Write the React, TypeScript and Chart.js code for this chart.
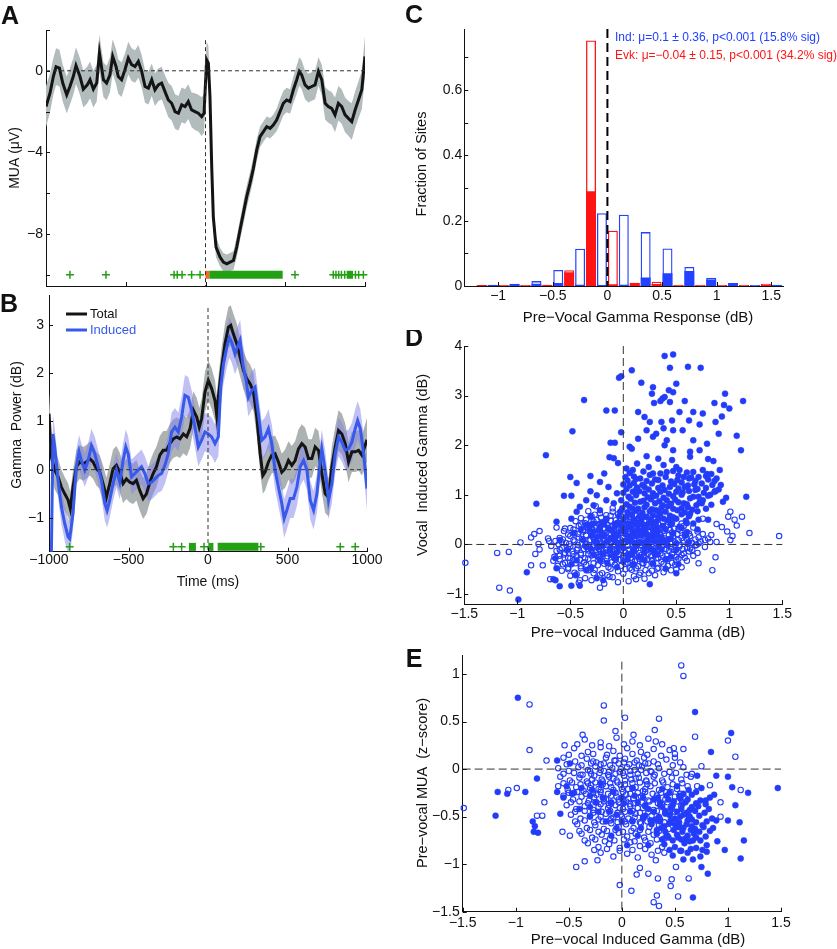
import React, { useEffect, useRef } from 'react';
import { Chart, registerables } from 'chart.js';

Chart.register(...registerables);

const FONT = "'Liberation Sans', Arial, Helvetica, sans-serif";
Chart.defaults.font.family = FONT;
Chart.defaults.color = '#111';
const MINUS = '\u2212';
const fmt = (v: number) => (v < 0 ? MINUS + String(-v) : String(v));

// ---------------- Panel A: MUA ----------------
const muaTime = [-1000,-975,-954,-937,-916,-895,-870,-850,-829,-812,-787,-766,-741,-724,-703,-682,-665,-640,-620,-599,-582,-561,-547,-526,-505,-484,-463,-442,-421,-400,-379,-358,-337,-317,-296,-275,-254,-233,-212,-191,-170,-149,-128,-108,-87,-66,-45,-24,-9,7,18,28,39,49,66,91,112,133,154,175,196,216,237,258,279,300,321,342,363,384,405,425,446,467,488,509,530,551,572,588,603,624,645,666,687,708,729,750,770,791,812,833,854,875,896,917,938,959,980,1000];
const muaMean = [-1.75,-1.1,-0.28,0.2,0.13,-0.6,-1.18,-0.77,-0.28,0.25,-0.28,-0.9,-0.69,-0.44,-0.9,-0.6,0.87,-0.44,-0.6,-0.2,0.7,0.21,-0.28,-0.44,0.05,0.62,0.3,0.21,0.46,-0.03,-0.77,-0.85,-0.44,-0.93,-0.69,-0.6,-1.02,-1.43,-1.59,-2.0,-2.08,-1.67,-1.75,-1.51,-1.92,-2.0,-2.08,-2.25,-2.08,0.54,0.38,-1.26,-4.7,-7.16,-8.64,-9.13,-9.38,-9.46,-9.38,-9.3,-8.64,-7.82,-7.0,-6.18,-5.52,-4.79,-3.89,-3.23,-2.98,-2.74,-2.82,-2.66,-2.41,-2.0,-1.59,-1.43,-1.51,-0.93,-0.44,-0.03,-0.2,-0.69,-0.85,-0.77,-0.69,-0.03,-0.44,-1.59,-1.75,-1.84,-2.16,-1.59,-1.75,-2.16,-2.33,-2.49,-1.92,-1.43,-0.93,0.7];
const muaSem = [1.0,0.95,0.9,0.9,0.9,0.9,0.9,0.9,0.9,0.9,0.9,0.9,0.9,0.9,0.9,0.9,0.9,0.85,0.85,0.85,0.85,0.85,0.85,0.85,0.8,0.8,0.8,0.8,0.8,0.8,0.8,0.8,0.8,0.8,0.8,0.8,0.8,0.85,0.85,0.85,0.85,0.85,0.85,0.85,0.85,0.9,0.9,0.95,0.95,0.9,0.85,0.7,0.6,0.55,0.5,0.45,0.45,0.45,0.45,0.45,0.5,0.5,0.55,0.55,0.55,0.55,0.55,0.5,0.5,0.5,0.5,0.5,0.55,0.6,0.6,0.6,0.6,0.65,0.7,0.7,0.7,0.7,0.7,0.7,0.7,0.7,0.75,0.8,0.8,0.8,0.85,0.85,0.85,0.85,0.85,0.9,0.9,0.9,0.95,1.0];
const muaSigCross = [-850,-624,-197,-177,-147,-87,-34,561,801,818,835,852,873,940,960,990];
const muaSigBars = [[24,484],[885,925]];
const muaOnsetBars = [[0,24]];
const muaMarkY = -10;
const muaXTicks = [-1000,-500,0,500,1000];
const muaYTicks = [2,0,-2,-4,-6,-8,-10];
const muaYLabels = [0,-4,-8];

// ---------------- Panel B: gamma power ----------------
const totalTime = [-1000,-985,-964,-943,-922,-901,-880,-866,-849,-828,-807,-786,-765,-744,-723,-702,-681,-660,-639,-618,-597,-576,-555,-534,-513,-492,-471,-450,-429,-408,-387,-366,-345,-324,-303,-282,-261,-240,-218,-197,-176,-155,-134,-113,-92,-71,-55,-40,-19,2,23,44,55,65,86,107,128,143,160,181,202,223,244,265,286,307,328,345,359,380,401,422,443,464,485,506,527,548,569,590,611,632,653,674,695,716,737,758,779,800,821,842,863,884,905,926,947,968,1000];
const totalMean = [1.16,0.26,-0.01,-0.15,-0.36,-0.5,-0.63,-0.81,-0.36,0.06,0.16,0.12,0.16,0.23,0.16,0.02,-0.05,-0.29,-0.57,-0.29,0.02,0.09,-0.05,-0.29,-0.19,-0.26,-0.29,-0.22,-0.43,-0.6,-0.5,-0.26,-0.08,0.06,0.3,0.4,0.4,0.54,0.64,0.68,0.64,0.74,0.68,0.85,1.23,1.09,0.88,1.06,1.61,1.85,1.68,1.43,1.12,1.5,2.12,2.61,2.95,2.99,2.81,2.61,2.33,2.06,1.88,1.78,1.61,1.09,0.33,-0.12,-0.05,0.16,0.3,0.33,0.16,-0.05,0.02,0.19,0.09,0.19,0.43,0.54,0.47,0.23,0.23,0.47,0.4,-0.08,-0.5,-0.57,0.06,0.47,0.81,0.74,0.54,0.16,0.37,0.37,0.4,0.3,0.62];
const totalSem = [0.45,0.4,0.4,0.38,0.36,0.35,0.35,0.35,0.35,0.35,0.35,0.35,0.35,0.35,0.35,0.35,0.35,0.38,0.4,0.4,0.4,0.4,0.4,0.4,0.42,0.42,0.42,0.42,0.42,0.42,0.42,0.42,0.42,0.42,0.4,0.4,0.4,0.4,0.4,0.4,0.4,0.4,0.4,0.4,0.4,0.4,0.4,0.4,0.42,0.42,0.42,0.42,0.42,0.42,0.42,0.42,0.42,0.42,0.42,0.42,0.4,0.4,0.4,0.4,0.4,0.4,0.38,0.38,0.38,0.38,0.38,0.38,0.38,0.38,0.4,0.4,0.4,0.4,0.4,0.4,0.4,0.4,0.4,0.4,0.4,0.4,0.4,0.4,0.42,0.42,0.42,0.42,0.42,0.42,0.42,0.42,0.42,0.42,0.45];
const indTime = [-988,-975,-964,-943,-922,-901,-880,-870,-849,-828,-811,-796,-775,-754,-733,-712,-691,-670,-649,-634,-618,-597,-576,-555,-534,-517,-502,-481,-460,-439,-418,-397,-376,-355,-334,-313,-292,-271,-250,-229,-208,-187,-166,-145,-124,-103,-82,-61,-40,-19,2,23,44,65,80,97,118,134,149,170,185,202,219,240,254,275,296,317,338,359,380,401,422,443,464,479,496,517,538,559,580,601,622,643,664,685,702,716,737,758,779,800,821,842,863,884,905,926,941,958,979,1000];
const indMean = [-2.5,0.74,0.47,-0.22,-0.77,-1.12,-1.39,-1.43,-0.91,0.06,0.37,0.19,-0.01,0.19,0.5,0.33,0.06,-0.22,-0.7,-0.84,-0.63,-0.29,-0.01,-0.26,0.19,0.47,0.33,-0.15,-0.08,-0.01,0.06,-0.08,-0.29,-0.26,-0.19,-0.12,-0.08,0.09,0.33,0.78,0.88,0.78,1.09,1.54,1.5,1.23,0.88,0.47,0.61,0.78,0.74,0.68,0.54,0.68,1.71,2.19,2.54,2.74,2.64,2.4,2.54,2.68,2.19,1.85,1.5,1.64,1.71,1.16,0.61,0.68,0.85,0.54,-0.01,-0.36,-0.7,-1.01,-0.84,-0.6,-0.6,-0.36,0.06,0.19,-0.01,-0.63,-0.84,-0.5,0.06,0.43,-0.01,-0.63,-0.29,0.33,0.68,0.57,0.4,0.43,0.57,0.85,1.02,0.85,0.33,-0.39];
const indSem = [0,0.4,0.38,0.36,0.36,0.36,0.35,0.35,0.35,0.35,0.35,0.35,0.35,0.35,0.35,0.35,0.35,0.35,0.36,0.36,0.36,0.36,0.36,0.36,0.36,0.36,0.36,0.36,0.36,0.36,0.36,0.36,0.36,0.36,0.36,0.36,0.36,0.38,0.38,0.4,0.4,0.4,0.42,0.42,0.42,0.42,0.42,0.4,0.4,0.4,0.4,0.4,0.4,0.4,0.42,0.42,0.42,0.42,0.42,0.42,0.42,0.42,0.42,0.4,0.4,0.4,0.4,0.4,0.4,0.4,0.4,0.4,0.4,0.4,0.4,0.4,0.4,0.4,0.4,0.4,0.4,0.4,0.4,0.4,0.4,0.4,0.4,0.4,0.4,0.4,0.4,0.4,0.4,0.4,0.4,0.4,0.4,0.4,0.4,0.4,0.4,0.45];
const gamSigCross = [-870,-218,-166,-25,332,832,926];
const gamSigBars = [[-120,-76],[2,34],[61,317]];
const gamMarkY = -1.6;
const gamXTicks = [-1000,-500,0,500,1000];
const gamYTicks = [-1,0,1,2,3];

// ---------------- Panel C: histogram ----------------
const indCenters = [-1.05,-0.85,-0.65,-0.45,-0.25,-0.05,0.15,0.35,0.55,0.75,0.95,1.15,1.35,1.55];
const indAll = [0.003,0.006,0.014,0.048,0.113,0.222,0.217,0.164,0.114,0.057,0.024,0.008,0.002,0.003];
const indSig = [0.002,0.005,0.006,0.008,0.003,0.002,0.003,0.025,0.038,0.045,0.019,0.006,0.001,0.002];
const evkCenters = [-1.15,-0.95,-0.75,-0.55,-0.35,-0.15,0.05,0.25,0.45,0.65,0.85,1.05,1.25,1.45];
const evkAll = [0.002,0.002,0.002,0.003,0.047,0.751,0.168,0.009,0.012,0.002,0.002,0.002,0.002,0.006];
const evkSig = [0.002,0.001,0.001,0.002,0.041,0.289,0.004,0.008,0.005,0.001,0.001,0.001,0.001,0.003];
const histXTicks = [-1,-0.5,0,0.5,1,1.5];
const histYTicks = [0,0.1,0.2,0.3,0.4,0.5,0.6,0.7];
const histYLabels = [0,0.2,0.4,0.6];
const indLegend = 'Ind: \u03bc=0.1 \u00b1 0.36, p<0.001 (15.8% sig)';
const evkLegend = 'Evk: \u03bc=\u22120.04 \u00b1 0.15, p<0.001 (34.2% sig)';

// ---------------- Panel D: vocal vs pre-vocal induced gamma ----------------
const dSig = [[0.39,3.8],[0.47,3.83],[0.44,3.56],[0.61,3.58],[0.73,3.56],[0.08,3.51],[-0.04,3.36],[-0.02,3.39],[0.17,3.26],[0.5,3.24],[0.28,3.17],[0.43,3.11],[0.47,3.07],[0.96,3.04],[-0.37,2.91],[0.37,2.94],[1.13,2.89],[0.27,3.04],[0.29,2.85],[0.35,2.89],[0.39,2.97],[0.44,2.87],[0.58,2.89],[0.86,2.85],[0.95,2.81],[1.0,2.74],[-0.16,2.7],[-0.08,2.7],[0.14,2.67],[0.2,2.57],[0.25,2.47],[0.36,2.47],[0.46,2.5],[0.53,2.67],[0.62,2.5],[0.66,2.67],[0.72,2.42],[0.75,2.64],[0.87,2.47],[0.93,2.58],[-0.48,2.28],[-0.02,2.26],[0.22,2.3],[0.31,2.23],[0.38,2.34],[0.47,2.3],[0.56,2.3],[0.9,2.23],[1.07,2.19],[0.14,2.13],[0.28,2.17],[0.41,2.1],[0.66,2.1],[0.79,2.03],[1.11,1.9],[-0.12,2.05],[-0.08,2.05],[0.06,1.97],[0.08,1.93],[0.39,2.0],[0.47,1.9],[0.63,1.87],[0.72,1.9],[-0.73,1.8],[-0.13,1.76],[-0.09,1.74],[0.22,1.78],[0.33,1.73],[0.46,1.7],[0.63,1.77],[0.8,1.72],[0.85,1.68],[-0.05,1.64],[0.13,1.63],[0.24,1.56],[0.38,1.6],[0.5,1.56],[0.91,1.5],[0.03,1.53],[0.09,1.5],[0.28,1.43],[0.41,1.46],[0.53,1.5],[0.66,1.46],[0.75,1.5],[0.83,1.42],[-0.18,1.43],[-0.31,1.38],[-0.5,1.36],[-0.22,1.26],[-0.44,1.24],[0.02,1.36],[0.16,1.33],[0.33,1.3],[0.57,1.36],[0.71,1.36],[0.88,1.33],[-0.14,1.16],[-0.31,1.07],[0.06,1.19],[0.2,1.16],[0.44,1.16],[0.61,1.19],[0.74,1.23],[0.9,1.11],[-0.56,0.98],[-0.49,0.98],[-0.25,0.99],[-0.06,1.03],[0.09,1.06],[0.28,1.03],[0.5,1.06],[0.66,0.96],[0.97,0.94],[1.16,0.96],[0.94,0.86],[-0.82,0.82],[-0.35,0.89],[-0.16,0.89],[-0.41,0.76],[-0.28,0.79],[-0.09,0.83],[0.16,0.86],[0.41,0.89],[0.57,0.83],[0.69,0.79],[-0.44,0.66],[-0.22,0.69],[-0.03,0.66],[0.09,0.72],[0.31,0.69],[0.47,0.72],[0.63,0.62],[-0.49,0.52],[-0.31,0.56],[-0.16,0.52],[0.03,0.56],[0.22,0.56],[0.38,0.52],[0.71,0.5],[0.8,0.5],[-0.63,0.46],[-0.35,0.39],[-0.22,0.36],[-0.08,0.39],[0.13,0.39],[0.31,0.36],[0.53,0.36],[0.66,0.42],[-0.47,0.22],[-0.28,0.26],[-0.09,0.22],[0.09,0.26],[0.28,0.19],[0.47,0.22],[-0.6,0.09],[-0.38,0.09],[-0.16,0.05],[0.03,0.09],[0.22,0.05],[0.41,0.09],[-0.53,-0.11],[-0.31,-0.08],[-0.13,-0.11],[0.09,-0.15],[0.28,-0.11],[0.5,-0.11],[-0.64,-0.28],[-0.44,-0.32],[-0.22,-0.32],[0,-0.35],[0.2,-0.32],[0.41,-0.3],[-0.63,-0.48],[-0.49,-0.4],[-0.3,-0.46],[-0.06,-0.46],[0.4,-0.49],[0.52,-0.4],[-0.91,-0.56],[-0.66,-0.7],[-0.64,-0.72],[-0.45,-0.62],[-0.35,-0.52],[-0.25,-0.68],[-0.19,-0.72],[0.5,-0.58],[-0.6,-0.84],[-0.49,-0.83],[-0.41,-0.83],[0.25,-0.8],[-0.99,-1.11],
[0.06,1.44],[0.19,1.47],[0.35,1.43],[0.47,1.48],[0.6,1.45],[0.79,1.42],[0.1,1.37],[0.25,1.4],[0.4,1.36],[0.52,1.39],[0.64,1.35],[0.78,1.38],[0.04,1.29],[0.12,1.32],[0.22,1.28],[0.3,1.31],[0.45,1.27],[0.51,1.3],[0.62,1.33],[0.68,1.28],[0.8,1.31],[0.0,1.21],[0.1,1.24],[0.18,1.2],[0.27,1.23],[0.37,1.19],[0.48,1.22],[0.55,1.25],[0.67,1.21],[0.84,1.2],[0.03,1.12],[0.13,1.15],[0.24,1.11],[0.33,1.14],[0.39,1.1],[0.52,1.13],[0.58,1.16],[0.7,1.12],[0.78,1.14],[0.0,1.04],[0.15,1.07],[0.2,1.03],[0.35,1.06],[0.43,1.02],[0.56,1.05],[0.62,1.08],[0.76,1.04],[0.86,1.06],[0.05,0.96],[0.12,0.99],[0.23,0.95],[0.31,0.98],[0.38,0.94],[0.47,0.97],[0.55,1.0],[0.71,0.96],[0.8,0.98],[-0.02,0.89],[0.07,0.92],[0.19,0.88],[0.26,0.91],[0.34,0.87],[0.49,0.9],[0.63,0.93],[0.75,0.89],[0.03,0.81],[0.11,0.84],[0.22,0.8],[0.3,0.83],[0.37,0.79],[0.45,0.82],[0.52,0.85],[0.6,0.81],[0.74,0.83],[0.83,0.8],[-0.01,0.73],[0.06,0.76],[0.14,0.72],[0.2,0.75],[0.27,0.71],[0.36,0.74],[0.42,0.77],[0.55,0.73],[0.61,0.75],[0.78,0.72],[0.04,0.65],[0.12,0.68],[0.18,0.64],[0.25,0.67],[0.34,0.63],[0.4,0.66],[0.51,0.69],[0.58,0.65],[0.7,0.67],[-0.04,0.57],[0.08,0.6],[0.15,0.56],[0.28,0.59],[0.33,0.55],[0.44,0.58],[0.55,0.61],[0.62,0.57],[0.0,0.48],[0.1,0.51],[0.17,0.47],[0.26,0.5],[0.31,0.46],[0.42,0.49],[0.5,0.52],[0.59,0.48],[-0.03,0.39],[0.05,0.42],[0.19,0.38],[0.24,0.41],[0.37,0.37],[0.45,0.4],[0.6,0.43],[-0.12,0.29],[0.02,0.32],[0.14,0.28],[0.2,0.31],[0.33,0.27],[0.4,0.3],[0.55,0.33],[-0.2,0.17],[-0.05,0.2],[0.05,0.16],[0.17,0.19],[0.36,0.15],[0.58,0.18],[-0.25,0.04],[-0.08,0.07],[0.12,0.03],[0.3,0.06],[0.5,0.02]];
const dSigCore = [[-0.3,0.4],[-0.2,0.45],[-0.1,0.3],[0.0,0.35],[0.1,0.45],[0.2,0.35],[0.27,0.45],[0.45,0.45],[-0.25,0.15],[-0.12,0.12],[0.07,0.15],[0.15,0.05],[0.25,0.12],[0.35,0.05],[0.45,0.12],[-0.35,-0.05],[-0.2,-0.02],[-0.05,-0.05],[0.12,-0.03],[0.2,-0.08],[0.33,-0.05],[0.42,-0.02],[-0.28,-0.2],[-0.1,-0.22],[0.05,-0.2],[0.15,-0.25],[0.32,-0.2],[0.45,-0.25],[-0.15,-0.38],[0.1,-0.4],[0.28,-0.38],[-0.4,0.3],[0.6,0.25],[0.62,0.05],[0.7,0.3],[0.65,0.7],[0.72,0.85],[0.82,1.0],[0.68,1.1],[0.86,1.28],[0.92,1.2],[0.12,1.1],[0.28,0.97],[0.18,0.55],[0.35,0.63],[0.47,0.55],
[-0.28,0.42],[-0.18,0.4],[-0.06,0.43],[0.06,0.41],[0.16,0.44],[0.3,0.41],[-0.32,0.3],[-0.22,0.28],[-0.14,0.33],[-0.02,0.27],[0.08,0.32],[0.18,0.27],[0.28,0.31],[-0.3,0.18],[-0.18,0.2],[-0.08,0.16],[0.02,0.22],[0.12,0.18],[0.22,0.21],[0.32,0.17],[-0.27,0.06],[-0.14,0.08],[-0.03,0.04],[0.08,0.07],[0.18,0.03],[0.27,0.08],[0.38,0.04],[-0.24,-0.06],[-0.12,-0.09],[0.0,-0.07],[0.1,-0.1],[0.24,-0.06],[0.36,-0.1],[-0.2,-0.18],[-0.06,-0.16],[0.08,-0.19],[0.2,-0.16],[0.3,-0.2],[-0.22,-0.3],[-0.08,-0.28],[0.04,-0.3],[0.17,-0.28]];
const dNonSig = [[-1.49,-0.37],[-1.19,-0.17],[-1.08,-0.15],[-0.97,0.04],[-0.87,0.14],[-0.84,0.21],[-0.79,0.27],[-0.8,0.01],[-0.79,-0.1],[-0.83,-0.19],[-0.87,-0.42],[-0.76,-0.42],[-0.71,0.12],[-0.7,0.07],[-1.17,-0.87],[-1.07,-0.93],[-0.69,-0.7],[-0.63,0.34],[-0.55,0.32],[-0.58,0.05],[-0.65,-0.25],[-0.22,-0.87],[-0.05,-0.76],[-0.41,-0.72],[-0.13,-0.65],[0.71,-0.38],[0.84,-0.52],[0.87,-0.26],[0.88,0.41],[0.93,0.35],[0.98,0.26],[1.01,0.09],[1.03,0.17],[1.01,0.66],[0.99,0.56],[1.05,0.5],[1.07,0.38],[1.12,0.56],[1.19,0.23],[1.47,0.17],[0.87,1.08],[0.75,0.21],[0.77,0.09],[0.71,0.02],[0.83,0.19],[0.75,0.52],[0.82,0.05],[0.88,0.05],[0.57,-0.18],[0.63,-0.08],[0.5,-0.32],
[-0.42,-0.77],[-0.3,-0.72],[-0.18,-0.79],[0.05,-0.74],[0.12,-0.7],[-0.5,-0.63],[-0.36,-0.68],[-0.22,-0.61],[-0.1,-0.66],[0.1,-0.64],[0.2,-0.69],[0.3,-0.62],[-0.58,-0.53],[-0.46,-0.57],[-0.33,-0.52],[-0.2,-0.58],[-0.05,-0.54],[0.08,-0.51],[0.16,-0.57],[0.27,-0.53],[0.38,-0.56],[0.45,-0.52],[-0.62,-0.43],[-0.52,-0.47],[-0.4,-0.44],[-0.31,-0.48],[-0.24,-0.42],[-0.14,-0.46],[-0.02,-0.43],[0.06,-0.48],[0.14,-0.44],[0.22,-0.41],[0.33,-0.47],[0.42,-0.43],[0.55,-0.46],[-0.66,-0.33],[-0.55,-0.37],[-0.47,-0.32],[-0.37,-0.36],[-0.28,-0.38],[-0.2,-0.33],[-0.11,-0.36],[-0.03,-0.31],[0.04,-0.37],[0.11,-0.34],[0.19,-0.38],[0.27,-0.32],[0.36,-0.35],[0.46,-0.37],[0.6,-0.33],[-0.6,-0.23],[-0.52,-0.27],[-0.44,-0.24],[-0.36,-0.28],[-0.3,-0.22],[-0.23,-0.26],[-0.15,-0.24],[-0.08,-0.28],[0.0,-0.23],[0.07,-0.27],[0.13,-0.22],[0.2,-0.26],[0.26,-0.24],[0.33,-0.28],[0.41,-0.22],[0.5,-0.25],[0.58,-0.27],[0.66,-0.23],[-0.63,-0.13],[-0.55,-0.17],[-0.48,-0.14],[-0.4,-0.18],[-0.33,-0.12],[-0.26,-0.16],[-0.19,-0.14],[-0.12,-0.18],[-0.06,-0.12],[0.02,-0.16],[0.09,-0.13],[0.15,-0.17],[0.22,-0.12],[0.29,-0.15],[0.35,-0.18],[0.43,-0.13],[0.52,-0.16],[0.62,-0.14],[0.7,-0.17],[-0.68,-0.03],[-0.58,-0.07],[-0.5,-0.04],[-0.43,-0.08],[-0.36,-0.02],[-0.29,-0.06],[-0.22,-0.04],[-0.16,-0.08],[-0.09,-0.02],[-0.03,-0.06],[0.04,-0.03],[0.1,-0.07],[0.17,-0.02],[0.23,-0.05],[0.3,-0.08],[0.37,-0.03],[0.45,-0.06],[0.53,-0.04],[0.6,-0.07],[0.68,-0.02],[0.77,-0.05],[-0.64,0.07],[-0.54,0.03],[-0.46,0.06],[-0.39,0.02],[-0.32,0.08],[-0.25,0.04],[-0.18,0.07],[-0.12,0.03],[-0.05,0.08],[0.01,0.04],[0.07,0.06],[0.14,0.02],[0.2,0.08],[0.27,0.05],[0.34,0.03],[0.41,0.07],[0.49,0.04],[0.57,0.08],[0.65,0.03],[0.73,0.06],[-0.6,0.13],[-0.5,0.17],[-0.42,0.14],[-0.35,0.18],[-0.28,0.12],[-0.21,0.16],[-0.14,0.13],[-0.07,0.18],[0.0,0.14],[0.06,0.12],[0.12,0.17],[0.19,0.13],[0.25,0.18],[0.32,0.14],[0.39,0.12],[0.47,0.16],[0.55,0.13],[0.63,0.17],[0.71,0.14],[0.8,0.12],[-0.56,0.27],[-0.46,0.23],[-0.38,0.26],[-0.3,0.22],[-0.23,0.28],[-0.16,0.24],[-0.09,0.27],[-0.02,0.23],[0.05,0.26],[0.11,0.22],[0.18,0.28],[0.24,0.25],[0.31,0.23],[0.38,0.27],[0.46,0.24],[0.54,0.28],[0.62,0.22],[0.7,0.26],[-0.5,0.33],[-0.42,0.37],[-0.34,0.34],[-0.26,0.38],[-0.18,0.32],[-0.11,0.36],[-0.04,0.33],[0.03,0.38],[0.1,0.34],[0.17,0.32],[0.24,0.37],[0.32,0.33],[0.4,0.36],[0.48,0.32],[0.57,0.37],[0.66,0.34],[-0.45,0.47],[-0.36,0.43],[-0.28,0.46],[-0.2,0.42],[-0.12,0.48],[-0.05,0.44],[0.04,0.47],[0.12,0.43],[0.2,0.46],[0.29,0.42],[0.37,0.47],[0.46,0.44],[0.55,0.42],[-0.4,0.53],[-0.3,0.57],[-0.21,0.54],[-0.12,0.58],[-0.03,0.52],[0.06,0.56],[0.15,0.53],[0.25,0.57],[0.35,0.54],[-0.33,0.67],[-0.22,0.63],[-0.1,0.66],[0.02,0.62],[0.14,0.68],[-0.26,0.77],[-0.1,0.73]];
const dNonSigCore = [[-0.44,-0.6],[-0.28,-0.58],[-0.15,-0.62],[0.0,-0.59],[0.15,-0.61],[0.24,-0.58],[-0.52,-0.5],[-0.4,-0.48],[-0.27,-0.51],[-0.12,-0.49],[0.02,-0.5],[0.12,-0.48],[0.21,-0.52],[0.32,-0.49],[0.5,-0.5],[-0.57,-0.4],[-0.45,-0.38],[-0.35,-0.41],[-0.18,-0.39],[-0.08,-0.41],[0.02,-0.39],[0.09,-0.41],[0.18,-0.38],[0.28,-0.4],[0.38,-0.39],[0.49,-0.41],[-0.6,-0.3],[-0.5,-0.28],[-0.41,-0.31],[-0.33,-0.29],[-0.24,-0.31],[-0.16,-0.28],[-0.07,-0.3],[0.0,-0.28],[0.08,-0.31],[0.15,-0.29],[0.23,-0.3],[0.31,-0.28],[0.4,-0.3],[0.52,-0.29],[-0.56,-0.2],[-0.47,-0.19],[-0.4,-0.21],[-0.33,-0.19],[-0.26,-0.21],[-0.19,-0.19],[-0.11,-0.21],[-0.04,-0.19],[0.04,-0.21],[0.1,-0.19],[0.17,-0.21],[0.23,-0.19],[0.3,-0.2],[0.37,-0.22],[0.46,-0.19],[0.55,-0.21],[-0.6,-0.1],[-0.52,-0.09],[-0.44,-0.11],[-0.37,-0.09],[-0.3,-0.11],[-0.23,-0.09],[-0.16,-0.11],[-0.09,-0.09],[-0.02,-0.11],[0.05,-0.1],[0.12,-0.09],[0.19,-0.11],[0.26,-0.09],[0.33,-0.11],[0.4,-0.09],[0.48,-0.11],[0.56,-0.09],[0.65,-0.11],[-0.61,0.0],[-0.51,0.01],[-0.43,-0.01],[-0.35,0.01],[-0.28,-0.01],[-0.21,0.01],[-0.15,-0.01],[-0.08,0.0],[-0.02,0.02],[0.04,-0.01],[0.11,0.01],[0.17,-0.01],[0.24,0.0],[0.31,0.02],[0.38,-0.01],[0.45,0.01],[0.53,-0.01],[0.61,0.01],[0.69,-0.01],[-0.57,0.1],[-0.47,0.09],[-0.39,0.11],[-0.31,0.09],[-0.24,0.11],[-0.17,0.09],[-0.1,0.11],[-0.03,0.1],[0.04,0.09],[0.1,0.11],[0.17,0.09],[0.23,0.11],[0.3,0.1],[0.37,0.09],[0.44,0.11],[0.52,0.09],[0.6,0.11],[0.68,0.1],[-0.52,0.2],[-0.43,0.21],[-0.35,0.19],[-0.27,0.21],[-0.2,0.19],[-0.13,0.21],[-0.06,0.19],[0.02,0.21],[0.09,0.19],[0.15,0.21],[0.22,0.2],[0.29,0.19],[0.35,0.21],[0.43,0.19],[0.51,0.21],[0.59,0.2],[-0.47,0.3],[-0.38,0.29],[-0.3,0.31],[-0.22,0.29],[-0.14,0.31],[-0.07,0.29],[0.0,0.31],[0.07,0.3],[0.14,0.29],[0.21,0.31],[0.28,0.29],[0.35,0.31],[0.44,0.29],[0.52,0.31],[-0.4,0.4],[-0.31,0.39],[-0.23,0.41],[-0.15,0.39],[-0.08,0.41],[0.0,0.4],[0.08,0.39],[0.16,0.41],[0.25,0.39],[0.33,0.41],[0.42,0.4],[-0.35,0.5],[-0.25,0.49],[-0.16,0.51],[-0.07,0.49],[0.02,0.51],[0.1,0.5],[0.2,0.49],[0.3,0.51],[-0.27,0.6],[-0.16,0.59],[-0.05,0.61],[0.08,0.6]];
const dXTicks = [-1.5,-1,-0.5,0,0.5,1,1.5];
const dYTicks = [-1,0,1,2,3,4];

// ---------------- Panel E: pre-vocal MUA vs pre-vocal induced gamma ----------------
const eSig = [[-0.98,0.75],[0.69,0.6],[1.03,0.38],[0.84,0.18],[-0.61,0.09],[-1.17,-0.24],[-1.08,-0.26],[-0.91,-0.24],[-1.19,-0.49],[-0.8,-0.1],[-0.84,-0.55],[-0.82,-0.6],[-0.83,-0.66],[-0.79,-0.67],[1.47,-0.2],[1.19,-0.25],[1.04,-0.19],[1.07,-0.38],[1.0,-0.08],[0.89,-0.07],[0.71,-0.07],[0.87,-0.27],[0.79,-0.33],[0.89,-0.54],[1.0,-0.54],[1.11,-0.56],[1.15,-0.75],[1.12,-0.94],[0.97,-0.85],[0.9,-0.76],[0.81,-1.1],[0.75,-1.03],[0.67,-0.95],[0.67,-1.35],[0.56,-0.86],[0.8,-0.87],[0.64,-0.5],[0.77,-0.61],[0.67,-0.75],[0.55,-0.61],[0.42,-0.71],[-0.58,-0.47],[-0.49,0.06],[-0.61,-0.24],[-0.47,-0.26],
[0.38,-0.21],[0.52,-0.18],[0.63,-0.22],[0.75,-0.2],[0.3,-0.32],[0.42,-0.28],[0.55,-0.31],[0.66,-0.27],[0.74,-0.33],[0.83,-0.3],[0.25,-0.42],[0.36,-0.38],[0.46,-0.41],[0.57,-0.37],[0.64,-0.43],[0.72,-0.39],[0.82,-0.42],[0.22,-0.49],[0.32,-0.53],[0.41,-0.47],[0.5,-0.52],[0.58,-0.48],[0.66,-0.53],[0.73,-0.49],[0.85,-0.52],[0.28,-0.58],[0.37,-0.62],[0.45,-0.57],[0.53,-0.61],[0.61,-0.58],[0.69,-0.63],[0.76,-0.59],[0.86,-0.62],[0.33,-0.68],[0.44,-0.72],[0.52,-0.69],[0.6,-0.73],[0.68,-0.68],[0.79,-0.71],[0.4,-0.79],[0.5,-0.82],[0.59,-0.78],[0.7,-0.83],[0.8,-0.8],[0.48,-0.91],[0.62,-0.88],[0.74,-0.92],[-0.45,-0.25],[-0.38,-0.2],[-0.3,-0.28],[-0.52,-0.18],[-0.25,-0.35],[-0.12,-0.45],[0.0,-0.3],[0.1,-0.55],[-0.05,-0.62],[0.15,-0.35],[-0.4,-0.42],[-0.2,-0.15],[0.05,-0.8],[-0.55,-0.3]];
const eSigCore = [[0.45,-0.25],[0.58,-0.26],[0.7,-0.24],[0.36,-0.35],[0.49,-0.34],[0.6,-0.35],[0.7,-0.36],[0.79,-0.37],[0.3,-0.45],[0.41,-0.44],[0.52,-0.45],[0.61,-0.46],[0.69,-0.44],[0.78,-0.46],[0.27,-0.54],[0.36,-0.55],[0.46,-0.54],[0.54,-0.56],[0.62,-0.54],[0.7,-0.56],[0.8,-0.55],[0.33,-0.64],[0.41,-0.66],[0.49,-0.64],[0.57,-0.66],[0.65,-0.64],[0.73,-0.66],[0.83,-0.65],[0.38,-0.74],[0.48,-0.75],[0.56,-0.74],[0.64,-0.76],[0.74,-0.75],[0.45,-0.85],[0.55,-0.86],[0.65,-0.84],[0.76,-0.85],[0.58,-0.95],[0.2,-0.3],[0.1,-0.2],[-0.1,-0.35],[-0.3,-0.4],[0.18,-0.62],[-0.15,-0.55],
[0.34,-0.3],[0.44,-0.32],[0.54,-0.28],[0.62,-0.32],[0.38,-0.4],[0.48,-0.38],[0.56,-0.42],[0.66,-0.4],[0.35,-0.5],[0.45,-0.48],[0.55,-0.5],[0.63,-0.49],[0.4,-0.6],[0.5,-0.58],[0.58,-0.62],[0.66,-0.6],[0.43,-0.7],[0.53,-0.72],[0.62,-0.7],[0.7,-0.72],[-0.28,-0.22],[-0.18,-0.3],[-0.08,-0.24],[0.02,-0.36],[0.12,-0.28],[0.22,-0.38],[-0.22,-0.45],[-0.05,-0.48],[0.08,-0.45],[0.2,-0.52],[-0.3,-0.5],[0.0,-0.55],[0.15,-0.7],[0.25,-0.8],[-0.1,-0.7]];
const eNonSig = [[0.56,1.09],[0.58,0.98],[-0.87,0.68],[-0.17,0.67],[-0.17,0.51],[0.03,0.54],[0.35,0.53],[0.31,0.41],[0.32,0.29],[-0.06,0.4],[0.11,0.36],[-0.87,0.2],[0.69,0.34],[1.0,0.3],[1.07,0.13],[0.58,0.21],[0.49,0.22],[0.5,0.12],[0.75,0.03],[-0.71,0.09],[-0.54,0.25],[-0.37,0.36],[-0.42,0.26],[-0.99,-0.2],[-1.07,-0.22],[-1.49,-0.41],[-0.8,-0.49],[-0.75,-0.49],[-0.73,-0.35],[-0.56,-0.66],[-0.49,-0.7],[-0.43,-1.03],[-0.35,-0.97],[-0.23,-0.96],[-0.02,-1.22],[0.09,-1.28],[0.14,-1.11],[0.17,-1.04],[0.25,-1.1],[0.32,-0.96],[0.34,-1.15],[0.33,-1.33],[0.3,-1.4],[0.35,-1.44],[0.46,-1.23],[0.47,-1.16],[0.51,-1.03],[0.53,-1.34],[0.63,-1.15],[1.12,-0.22],[0.93,-0.35],[0.83,-0.17],[0.93,-0.5],[-0.39,-0.06],[0.66,-0.05],[0.71,-0.18],
[-0.35,0.31],[-0.2,0.28],[-0.05,0.33],[0.1,0.29],[0.25,0.32],[-0.45,0.22],[-0.32,0.18],[-0.2,0.23],[-0.08,0.19],[0.05,0.22],[0.18,0.18],[0.3,0.21],[0.45,0.2],[-0.55,0.12],[-0.44,0.08],[-0.33,0.11],[-0.24,0.07],[-0.15,0.12],[-0.06,0.09],[0.03,0.11],[0.12,0.07],[0.21,0.12],[0.3,0.08],[0.42,0.1],[0.55,0.07],[-0.6,0.01],[-0.5,-0.02],[-0.41,0.02],[-0.32,-0.01],[-0.25,0.03],[-0.17,-0.02],[-0.09,0.01],[-0.02,-0.03],[0.05,0.02],[0.12,-0.01],[0.19,0.03],[0.27,-0.02],[0.35,0.01],[0.45,-0.03],[0.58,0.02],[-0.58,-0.08],[-0.49,-0.12],[-0.4,-0.09],[-0.33,-0.13],[-0.26,-0.07],[-0.19,-0.11],[-0.12,-0.08],[-0.05,-0.12],[0.02,-0.07],[0.09,-0.11],[0.16,-0.09],[0.23,-0.13],[0.3,-0.08],[0.38,-0.12],[0.47,-0.09],[0.56,-0.11],[0.65,-0.08],[-0.6,-0.18],[-0.51,-0.22],[-0.43,-0.19],[-0.36,-0.23],[-0.29,-0.17],[-0.22,-0.21],[-0.15,-0.18],[-0.08,-0.22],[-0.01,-0.17],[0.06,-0.21],[0.13,-0.19],[0.2,-0.23],[0.27,-0.18],[0.35,-0.22],[0.43,-0.19],[0.52,-0.21],[0.62,-0.18],[-0.55,-0.28],[-0.46,-0.32],[-0.38,-0.29],[-0.31,-0.33],[-0.24,-0.27],[-0.17,-0.31],[-0.1,-0.28],[-0.03,-0.32],[0.04,-0.27],[0.11,-0.31],[0.18,-0.29],[0.25,-0.33],[0.33,-0.28],[0.41,-0.32],[0.5,-0.29],[0.6,-0.31],[-0.52,-0.38],[-0.43,-0.42],[-0.35,-0.39],[-0.27,-0.43],[-0.2,-0.37],[-0.13,-0.41],[-0.06,-0.38],[0.01,-0.42],[0.08,-0.37],[0.15,-0.41],[0.22,-0.39],[0.3,-0.43],[0.38,-0.38],[0.47,-0.42],[0.56,-0.39],[-0.48,-0.48],[-0.39,-0.52],[-0.3,-0.49],[-0.22,-0.53],[-0.15,-0.47],[-0.08,-0.51],[-0.01,-0.48],[0.06,-0.52],[0.13,-0.47],[0.2,-0.51],[0.28,-0.49],[0.36,-0.53],[0.45,-0.48],[-0.42,-0.58],[-0.33,-0.62],[-0.25,-0.59],[-0.17,-0.63],[-0.1,-0.57],[-0.03,-0.61],[0.04,-0.58],[0.11,-0.62],[0.18,-0.57],[0.26,-0.61],[0.35,-0.59],[0.44,-0.63],[-0.38,-0.68],[-0.28,-0.72],[-0.19,-0.69],[-0.11,-0.73],[-0.03,-0.67],[0.05,-0.71],[0.13,-0.68],[0.21,-0.72],[0.3,-0.69],[0.4,-0.73],[-0.32,-0.78],[-0.22,-0.82],[-0.12,-0.79],[-0.02,-0.83],[0.08,-0.77],[0.17,-0.81],[0.27,-0.78],[0.38,-0.82],[-0.2,-0.88],[-0.08,-0.92],[0.05,-0.89],[0.15,-0.93],[0.28,-0.9],[0.4,-0.88]];
const eNonSigCore = [[-0.28,0.25],[-0.12,0.24],[0.02,0.26],[0.17,0.25],[0.38,0.26],[-0.5,0.15],[-0.38,0.14],[-0.27,0.16],[-0.14,0.15],[-0.02,0.14],[0.1,0.16],[0.24,0.15],[0.37,0.14],[0.5,0.16],[-0.52,0.05],[-0.38,0.04],[-0.29,0.06],[-0.2,0.05],[-0.11,0.04],[-0.03,0.06],[0.07,0.05],[0.16,0.04],[0.25,0.06],[0.34,0.05],[0.48,0.04],[-0.55,-0.05],[-0.45,-0.04],[-0.37,-0.06],[-0.29,-0.05],[-0.21,-0.04],[-0.13,-0.06],[-0.06,-0.05],[0.01,-0.04],[0.08,-0.06],[0.15,-0.05],[0.23,-0.04],[0.31,-0.06],[0.4,-0.05],[0.51,-0.04],[0.61,-0.06],[-0.55,-0.15],[-0.47,-0.14],[-0.39,-0.16],[-0.32,-0.15],[-0.25,-0.14],[-0.18,-0.16],[-0.11,-0.15],[-0.04,-0.14],[0.03,-0.16],[0.1,-0.15],[0.17,-0.14],[0.24,-0.16],[0.31,-0.15],[0.39,-0.14],[0.48,-0.16],[0.57,-0.15],[-0.5,-0.25],[-0.42,-0.24],[-0.34,-0.26],[-0.27,-0.25],[-0.2,-0.24],[-0.13,-0.26],[-0.06,-0.25],[0.01,-0.24],[0.08,-0.26],[0.15,-0.25],[0.22,-0.24],[0.29,-0.26],[0.37,-0.25],[0.46,-0.24],[0.55,-0.26],[-0.48,-0.35],[-0.4,-0.34],[-0.32,-0.36],[-0.24,-0.35],[-0.17,-0.34],[-0.1,-0.36],[-0.03,-0.35],[0.04,-0.34],[0.11,-0.36],[0.19,-0.35],[0.26,-0.34],[0.34,-0.36],[0.43,-0.35],[0.52,-0.34],[-0.44,-0.45],[-0.35,-0.44],[-0.27,-0.46],[-0.19,-0.45],[-0.11,-0.44],[-0.04,-0.46],[0.03,-0.45],[0.1,-0.44],[0.17,-0.46],[0.25,-0.45],[0.33,-0.44],[0.41,-0.46],[0.5,-0.45],[-0.44,-0.55],[-0.35,-0.54],[-0.26,-0.56],[-0.18,-0.55],[-0.11,-0.54],[-0.04,-0.56],[0.03,-0.55],[0.1,-0.54],[0.17,-0.56],[0.24,-0.55],[0.32,-0.54],[0.4,-0.56],[-0.4,-0.65],[-0.3,-0.64],[-0.22,-0.66],[-0.14,-0.65],[-0.06,-0.64],[0.01,-0.66],[0.09,-0.65],[0.17,-0.64],[0.25,-0.66],[0.35,-0.65],[-0.35,-0.75],[-0.25,-0.74],[-0.16,-0.76],[-0.07,-0.75],[0.02,-0.74],[0.12,-0.76],[0.22,-0.75],[0.33,-0.74],[-0.26,-0.85],[-0.14,-0.84],[-0.02,-0.86],[0.1,-0.85],[0.22,-0.84],[0.34,-0.86],
[-0.27,0.08],[-0.17,0.06],[-0.07,0.09],[0.02,0.07],[0.14,0.09],[0.22,0.06],[-0.3,-0.02],[-0.2,-0.01],[-0.12,-0.03],[-0.01,0.0],[0.08,-0.02],[0.18,-0.01],[0.28,-0.03],[-0.28,-0.11],[-0.18,-0.13],[-0.08,-0.1],[0.03,-0.12],[0.13,-0.1],[0.23,-0.12],[-0.3,-0.2],[-0.2,-0.22],[-0.1,-0.19],[0.0,-0.21],[0.1,-0.2],[0.22,-0.21],[-0.26,-0.3],[-0.15,-0.32],[-0.05,-0.29],[0.06,-0.31],[0.16,-0.3],[-0.22,-0.4],[-0.12,-0.38],[-0.02,-0.41],[0.08,-0.39],[0.2,-0.41],[-0.2,-0.5],[-0.1,-0.52],[0.0,-0.5],[0.12,-0.51]];
const eXTicks = [-1.5,-1,-0.5,0,0.5,1,1.5];
const eYTicks = [-1.5,-1,-0.5,0,0.5,1];

// ---------------- colours ----------------
const AXIS = '#111';
const BAND_A = 'rgb(178,188,188)';
const BAND_TOTAL = 'rgb(172,178,178)';
const BAND_IND = 'rgba(130,130,235,0.5)';
const LINE_BLACK = '#141414';
const LINE_BLUE = 'rgb(55,90,235)';
const GREEN = 'rgb(35,160,20)';
const ORANGE = 'rgb(255,100,30)';
const HIST_BLUE = 'rgb(35,65,255)';
const HIST_RED = 'rgb(255,20,20)';
const PT_BLUE = 'rgb(35,60,250)';

// ---------------- plugins ----------------
type TextItem = { text: string; x: number; y: number; font: string; color?: string; align?: CanvasTextAlign; baseline?: CanvasTextBaseline; rotate?: number };
function textsPlugin(items: TextItem[]) {
  return {
    id: 'texts',
    afterDraw(chart: any) {
      const ctx = chart.ctx;
      for (const it of items) {
        ctx.save();
        ctx.font = it.font;
        ctx.fillStyle = it.color || '#111';
        ctx.textAlign = it.align || 'center';
        ctx.textBaseline = it.baseline || 'middle';
        ctx.translate(it.x, it.y);
        if (it.rotate) ctx.rotate((it.rotate * Math.PI) / 180);
        ctx.fillText(it.text, 0, 0);
        ctx.restore();
      }
    },
  };
}
type RefLine = { axis: 'x' | 'y'; value: number; from?: number; to?: number; color: string; width: number; dash: number[] };
function refLinesPlugin(lines: RefLine[]) {
  return {
    id: 'refLines',
    afterDatasetsDraw(chart: any) {
      const ctx = chart.ctx;
      const xs = chart.scales.x;
      const ys = chart.scales.y;
      for (const L of lines) {
        ctx.save();
        ctx.strokeStyle = L.color;
        ctx.lineWidth = L.width;
        ctx.setLineDash(L.dash);
        ctx.beginPath();
        if (L.axis === 'x') {
          const p = xs.getPixelForValue(L.value);
          ctx.moveTo(p, ys.getPixelForValue(L.from ?? ys.max));
          ctx.lineTo(p, ys.getPixelForValue(L.to ?? ys.min));
        } else {
          const p = ys.getPixelForValue(L.value);
          ctx.moveTo(xs.getPixelForValue(L.from ?? xs.min), p);
          ctx.lineTo(xs.getPixelForValue(L.to ?? xs.max), p);
        }
        ctx.stroke();
        ctx.restore();
      }
    },
  };
}
const inTicksPlugin = {
  id: 'inTicks',
  afterDraw(chart: any) {
    const ctx = chart.ctx;
    const ca = chart.chartArea;
    const len = 4;
    ctx.save();
    ctx.strokeStyle = AXIS;
    ctx.lineWidth = 1;
    ctx.beginPath();
    const xs = chart.scales.x;
    const ys = chart.scales.y;
    for (const t of xs.ticks) {
      const p = Math.round(xs.getPixelForValue(t.value)) + 0.5;
      ctx.moveTo(p, ca.bottom);
      ctx.lineTo(p, ca.bottom - len);
    }
    for (const t of ys.ticks) {
      const p = Math.round(ys.getPixelForValue(t.value)) + 0.5;
      ctx.moveTo(ca.left, p);
      ctx.lineTo(ca.left + len, p);
    }
    ctx.stroke();
    ctx.restore();
  },
};
function lineLegendPlugin(x: number, y: number, rowH: number, idx: number[], font: string) {
  return {
    id: 'lineLegend',
    afterDraw(chart: any) {
      const ctx = chart.ctx;
      idx.forEach((di, k) => {
        const ds = chart.data.datasets[di];
        const yy = y + k * rowH;
        ctx.save();
        ctx.strokeStyle = ds.borderColor;
        ctx.lineWidth = 3;
        ctx.beginPath();
        ctx.moveTo(x, yy);
        ctx.lineTo(x + 21, yy);
        ctx.stroke();
        ctx.font = font;
        ctx.fillStyle = k === 0 ? '#111' : ds.borderColor;
        ctx.textAlign = 'left';
        ctx.textBaseline = 'middle';
        ctx.fillText(ds.label, x + 24, yy);
        ctx.restore();
      });
    },
  };
}

// ---------------- helpers ----------------
type Frame = { W: number; H: number; l: number; t: number; r: number; b: number };
function axis(isX: boolean, min: number, max: number, tickVals: number[], labelVals: number[], pad: number, size: number, fontSize = 14) {
  const labelSet = new Set(labelVals);
  return {
    type: 'linear',
    min,
    max,
    bounds: 'data',
    offset: false,
    grid: { display: false, drawTicks: false },
    border: { display: true, color: AXIS, width: 1 },
    ticks: {
      autoSkip: false,
      maxRotation: 0,
      minRotation: 0,
      padding: pad,
      color: '#111',
      font: { family: FONT, size: fontSize },
      callback: (v: number) => (labelSet.has(v) ? fmt(v) : ''),
    },
    afterBuildTicks: (s: any) => {
      s.ticks = tickVals.map((v) => ({ value: v }));
    },
    afterFit: (s: any) => {
      if (isX) s.height = size;
      else s.width = size;
    },
  };
}
function baseOptions(fr: Frame, x: any, y: any) {
  return {
    responsive: false,
    maintainAspectRatio: false,
    animation: false,
    devicePixelRatio: 1,
    events: [],
    layout: { padding: { left: 0, top: fr.t, right: fr.W - fr.r, bottom: 0 } },
    plugins: { legend: { display: false }, tooltip: { enabled: false } },
    scales: { x, y },
  };
}
const pts = (xs: number[], ys: number[]) => xs.map((x, i) => ({ x, y: ys[i] }));
const band = (xs: number[], ys: number[], sem: number[], sign: number) => xs.map((x, i) => ({ x, y: ys[i] + sign * sem[i] }));
const segs = (bars: number[][], yv: number, color: string) =>
  bars.map((b) => ({
    type: 'line',
    label: 'sig',
    data: [{ x: b[0], y: yv }, { x: b[1], y: yv }],
    borderColor: color,
    borderWidth: 8,
    borderCapStyle: 'butt',
    pointRadius: 0,
    fill: false,
    clip: false,
    order: 1,
  }));
const crosses = (ts: number[], yv: number) => ({
  type: 'line',
  label: 'sig+',
  data: ts.map((t) => ({ x: t, y: yv })),
  showLine: false,
  pointStyle: 'cross',
  pointRadius: 4,
  borderColor: GREEN,
  borderWidth: 1.5,
  clip: false,
  order: 1,
});
const TF = (s: number) => `${s}px ${FONT}`;
const LETTER = `bold 25px ${FONT}`;

// ---------------- configs ----------------
const frA: Frame = { W: 390, H: 300, l: 46, t: 30, r: 365, b: 286 };
function makeA() {
  return {
    type: 'line',
    data: {
      datasets: [
        { label: 'upper', data: band(muaTime, muaMean, muaSem, 1), borderWidth: 0, pointRadius: 0, fill: '+1', backgroundColor: BAND_A, order: 5 },
        { label: 'lower', data: band(muaTime, muaMean, muaSem, -1), borderWidth: 0, pointRadius: 0, fill: false, order: 5 },
        { label: 'MUA', data: pts(muaTime, muaMean), borderColor: LINE_BLACK, borderWidth: 3, pointRadius: 0, fill: false, tension: 0, order: 2 },
        crosses(muaSigCross, muaMarkY),
        ...segs(muaSigBars, muaMarkY, GREEN),
        ...segs(muaOnsetBars, muaMarkY, ORANGE),
      ],
    },
    options: baseOptions(frA, axis(true, -1000, 1000, muaXTicks, [], 0, frA.H - frA.b), axis(false, -10.55, 2, muaYTicks, muaYLabels, 3, frA.l)),
    plugins: [
      refLinesPlugin([
        { axis: 'y', value: 0, color: '#333', width: 1, dash: [4, 3] },
        { axis: 'x', value: 0, from: 1.5, color: '#333', width: 1, dash: [4, 3] },
      ]),
      inTicksPlugin,
      textsPlugin([
        { text: 'MUA (\u03bcV)', x: 15, y: 158, font: TF(14), rotate: -90 },
        { text: 'A', x: 10, y: 24, font: LETTER, baseline: 'alphabetic' },
      ]),
    ],
  };
}

const frB: Frame = { W: 400, H: 320, l: 49, t: 15, r: 367, b: 271.7 };
function makeB() {
  return {
    type: 'line',
    data: {
      datasets: [
        { label: 'tu', data: band(totalTime, totalMean, totalSem, 1), borderWidth: 0, pointRadius: 0, fill: '+1', backgroundColor: BAND_TOTAL, order: 6 },
        { label: 'tl', data: band(totalTime, totalMean, totalSem, -1), borderWidth: 0, pointRadius: 0, fill: false, order: 6 },
        { label: 'iu', data: band(indTime, indMean, indSem, 1), borderWidth: 0, pointRadius: 0, fill: '+1', backgroundColor: BAND_IND, order: 5 },
        { label: 'il', data: band(indTime, indMean, indSem, -1), borderWidth: 0, pointRadius: 0, fill: false, order: 5 },
        { label: 'Total', data: pts(totalTime, totalMean), borderColor: LINE_BLACK, borderWidth: 3, pointRadius: 0, fill: false, order: 3 },
        { label: 'Induced', data: pts(indTime, indMean), borderColor: LINE_BLUE, borderWidth: 3, pointRadius: 0, fill: false, order: 2 },
        crosses(gamSigCross, gamMarkY),
        ...segs(gamSigBars, gamMarkY, GREEN),
      ],
    },
    options: baseOptions(frB, axis(true, -1000, 1000, gamXTicks, gamXTicks, 0, frB.H - frB.b), axis(false, -1.7, 3.62, gamYTicks, gamYTicks, 5, frB.l)),
    plugins: [
      refLinesPlugin([
        { axis: 'y', value: 0, color: '#333', width: 1, dash: [4, 3] },
        { axis: 'x', value: 0, from: 3.35, color: '#333', width: 1, dash: [4, 3] },
      ]),
      inTicksPlugin,
      lineLegendPlugin(66, 34, 16, [4, 5], TF(13)),
      textsPlugin([
        { text: 'Gamma  Power (dB)', x: 17, y: 145, font: TF(14), rotate: -90 },
        { text: 'Time (ms)', x: 208, y: 302, font: TF(14) },
        { text: 'B', x: 9, y: 32, font: LETTER, baseline: 'alphabetic' },
      ]),
    ],
  };
}

const frC: Frame = { W: 437, H: 330, l: 64.3, t: 29, r: 383.3, b: 286 };
function makeC() {
  const bar = (label: string, c: number[], v: number[], bg: string, border: string, bw: number, order: number) => ({
    type: 'bar',
    label,
    data: pts(c, v),
    backgroundColor: bg,
    borderColor: border,
    borderWidth: bw,
    borderSkipped: false,
    grouped: false,
    barThickness: 9.3,
    order,
  });
  return {
    type: 'bar',
    data: {
      datasets: [
        bar('Ind', indCenters, indAll, '#ffffff', HIST_BLUE, 1.3, 3),
        bar('Evk', evkCenters, evkAll, '#ffffff', HIST_RED, 1.3, 3),
        bar('Ind sig', indCenters, indSig, HIST_BLUE, HIST_BLUE, 0, 2),
        bar('Evk sig', evkCenters, evkSig, HIST_RED, HIST_RED, 0, 2),
      ],
    },
    options: baseOptions(frC, axis(true, -1.31, 1.61, histXTicks, histXTicks, 2, frC.H - frC.b), axis(false, 0, 0.787, histYTicks, histYLabels, 2, frC.l)),
    plugins: [
      refLinesPlugin([{ axis: 'x', value: 0, color: '#000', width: 2, dash: [9, 5] }]),
      inTicksPlugin,
      textsPlugin([
        { text: indLegend, x: 215, y: 38, font: TF(12), color: HIST_BLUE, align: 'left' },
        { text: evkLegend, x: 215, y: 56, font: TF(12), color: HIST_RED, align: 'left' },
        { text: 'Fraction of Sites', x: 22, y: 164, font: TF(14.5), rotate: -90 },
        { text: 'Pre\u2212Vocal Gamma Response (dB)', x: 238, y: 318, font: TF(15) },
        { text: 'C', x: 14, y: 23, font: LETTER, baseline: 'alphabetic' },
      ]),
    ],
  };
}

function scatterSets(open: number[][], filled: number[][]) {
  return [
    { label: 'n.s.', data: open.map((p) => ({ x: p[0], y: p[1] })), pointStyle: 'circle', pointRadius: 2.7, borderWidth: 1.1, borderColor: PT_BLUE, backgroundColor: 'rgba(0,0,0,0)', clip: false, order: 2 },
    { label: 'sig', data: filled.map((p) => ({ x: p[0], y: p[1] })), pointStyle: 'circle', pointRadius: 3, borderWidth: 0.5, borderColor: PT_BLUE, backgroundColor: PT_BLUE, clip: false, order: 1 },
  ];
}

const frD: Frame = { W: 437, H: 318, l: 64.3, t: 16, r: 382.3, b: 274 };
function makeD() {
  return {
    type: 'scatter',
    data: { datasets: scatterSets([...dNonSig, ...dNonSigCore], [...dSig, ...dSigCore]) },
    options: baseOptions(frD, axis(true, -1.5, 1.5, dXTicks, dXTicks, 2, frD.H - frD.b), axis(false, -1.2, 4, dYTicks, dYTicks, 2, frD.l)),
    plugins: [
      refLinesPlugin([
        { axis: 'y', value: 0, color: '#333', width: 1, dash: [8, 4] },
        { axis: 'x', value: 0, color: '#333', width: 1, dash: [8, 4] },
      ]),
      inTicksPlugin,
      textsPlugin([
        { text: 'Vocal  Induced Gamma (dB)', x: 23, y: 135, font: TF(14.5), rotate: -90 },
        { text: 'Pre\u2212vocal Induced Gamma (dB)', x: 238, y: 303, font: TF(15) },
        { text: 'D', x: 14, y: 16, font: LETTER, baseline: 'alphabetic' },
      ]),
    ],
  };
}

const frE: Frame = { W: 437, H: 309, l: 62.7, t: 15, r: 381, b: 271.7 };
function makeE() {
  return {
    type: 'scatter',
    data: { datasets: scatterSets([...eNonSig, ...eNonSigCore], [...eSig, ...eSigCore]) },
    options: baseOptions(frE, axis(true, -1.5, 1.5, eXTicks, eXTicks, 3, frE.H - frE.b), axis(false, -1.5, 1.2, eYTicks, eYTicks, 3, frE.l)),
    plugins: [
      refLinesPlugin([
        { axis: 'y', value: 0, color: '#333', width: 1, dash: [8, 4] },
        { axis: 'x', value: 0, from: 1.13, color: '#333', width: 1, dash: [8, 4] },
      ]),
      inTicksPlugin,
      textsPlugin([
        { text: 'Pre\u2212vocal MUA  (z\u2212score)', x: 23, y: 143, font: TF(14.5), rotate: -90 },
        { text: 'Pre\u2212vocal Induced Gamma (dB)', x: 238, y: 300, font: TF(15) },
        { text: 'E', x: 14, y: 27, font: LETTER, baseline: 'alphabetic' },
      ]),
    ],
  };
}

function ChartPanel({ left, top, fr, make }: { left: number; top: number; fr: Frame; make: () => any }) {
  const ref = useRef<HTMLCanvasElement | null>(null);
  useEffect(() => {
    if (!ref.current) return;
    const chart = new Chart(ref.current, make());
    return () => chart.destroy();
  }, [make]);
  return (
    <canvas
      ref={ref}
      width={fr.W}
      height={fr.H}
      style={{ position: 'absolute', left, top, width: fr.W, height: fr.H, display: 'block' }}
    />
  );
}

export default function App() {
  return (
    <div style={{ position: 'absolute', left: 0, top: 0, width: 837, height: 949, background: '#fff', overflow: 'hidden' }}>
      <ChartPanel left={0} top={0} fr={frA} make={makeA} />
      <ChartPanel left={0} top={280} fr={frB} make={makeB} />
      <ChartPanel left={400} top={0} fr={frC} make={makeC} />
      <ChartPanel left={400} top={330} fr={frD} make={makeD} />
      <ChartPanel left={400} top={640} fr={frE} make={makeE} />
    </div>
  );
}
